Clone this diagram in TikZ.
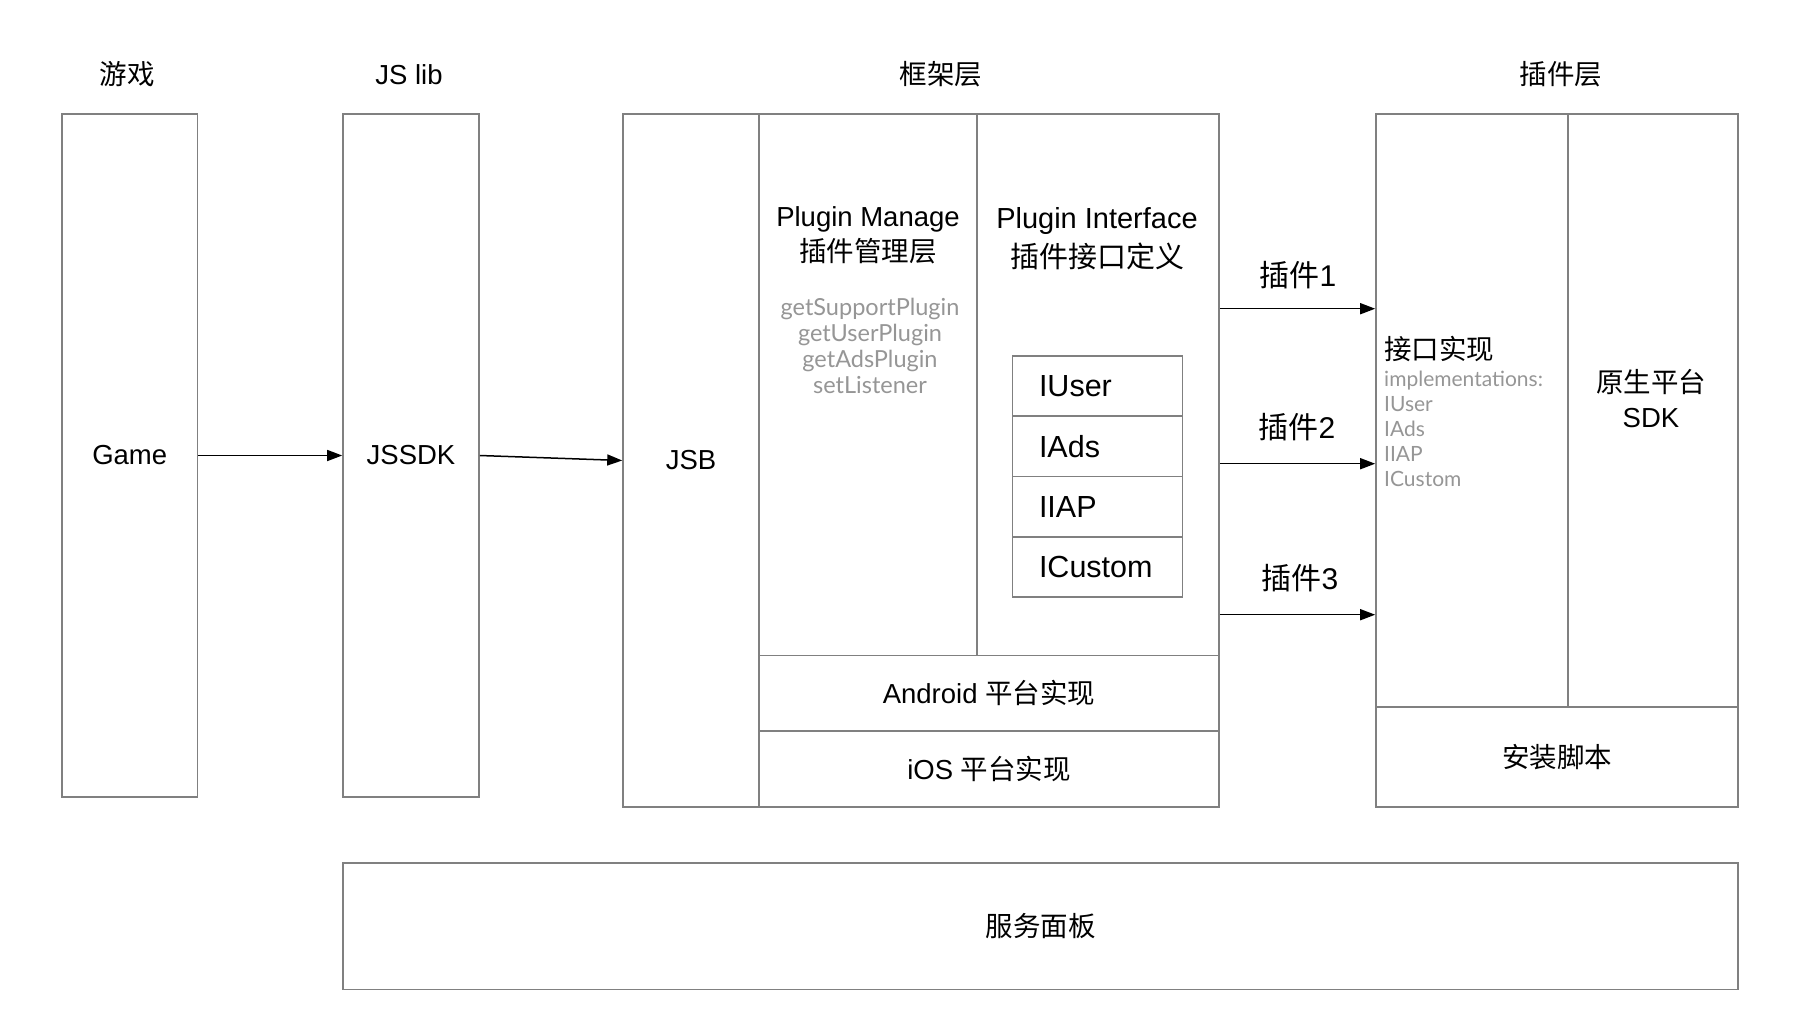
\documentclass[tikz,border=0pt]{standalone}
\usepackage{fontspec}
\setmainfont{Liberation Sans}
\newfontfamily\cj{Noto Sans CJK SC}
\newfontfamily\gf{Lato}
\usetikzlibrary{arrows.meta,calc}
\definecolor{linegray}{RGB}{128,128,128}
\definecolor{txtgray}{RGB}{150,150,150}
\begin{document}
\begin{tikzpicture}[x=1pt,y=-1pt,
  box/.style={draw=linegray,line width=1.6pt,inner sep=0pt,anchor=center},
  main/.style={font=\fontsize{27.5pt}{35pt}\selectfont},
  big/.style={font=\fontsize{29pt}{39pt}\selectfont},
  lab/.style={font=\fontsize{30pt}{36pt}\selectfont,inner sep=0pt},
  grayt/.style={font=\gf\fontsize{23.5pt}{26pt}\selectfont,text=txtgray,inner sep=0pt},
  grayi/.style={font=\gf\fontsize{21pt}{24.9pt}\selectfont,text=txtgray,inner sep=0pt},
  stackrow/.style={box,minimum width=170pt,minimum height=60.25pt,text width=117pt,inner xsep=26.5pt,align=left,font=\fontsize{30.5pt}{34pt}\selectfont},
  arr/.style={-{Triangle[length=15pt,width=11pt]},line width=1.5pt,black}
]
\useasboundingbox[fill=white] (0,0) rectangle (1800,1026);

% headers
\node[main] (h1) at (127,74.6) {\cj 游戏};
\node[main] (h2) at (409,74.6) {JS lib};
\node[main] (h3) at (941,74.6) {\cj 框架层};
\node[main] (h4) at (1561,74.6) {\cj 插件层};

% game & js lib
\node[box,main,minimum width=135.5pt,minimum height=683pt] (game) at (129.75,455.5) {Game};
\node[box,main,minimum width=136pt,minimum height=683pt] (jssdk) at (411,455.5) {JSSDK};

% framework layer
\node[box,main,minimum width=136pt,minimum height=693pt] (jsb) at (691,460.5) {JSB};
\node[box,minimum width=218pt,minimum height=541.5pt] (manage) at (868,384.75) {};
\node[box,minimum width=242pt,minimum height=541.5pt] (iface) at (1098,384.75) {};
\node[box,main,minimum width=460pt,minimum height=75.5pt] (andr) at (989,693.25) {Android {\cj 平台实现}};
\node[box,main,minimum width=460pt,minimum height=76pt] (ios) at (989,769) {iOS {\cj 平台实现}};

\node[main,align=center] (mt) at (868,235) {Plugin Manage\\{\cj 插件管理层}};
\node[grayt,align=center] (mg) at (870,345.5) {getSupportPlugin\\getUserPlugin\\getAdsPlugin\\setListener};
\node[big,align=center] (it) at (1097,239) {Plugin Interface\\{\cj 插件接口定义}};

\node[stackrow] (s1) at (1097.5,386.125) {IUser};
\node[stackrow] (s2) at (1097.5,446.375) {IAds};
\node[stackrow] (s3) at (1097.5,506.625) {IIAP};
\node[stackrow] (s4) at (1097.5,566.875) {ICustom};

% plugin layer
\node[box,minimum width=192pt,minimum height=593pt] (impl) at (1472,410.5) {};
\node[box,minimum width=170pt,minimum height=593pt] (sdk) at (1653,410.5) {};
\node[box,main,minimum width=362pt,minimum height=100pt] (inst) at (1557,757) {\cj 安装脚本};

\node[main,anchor=west,inner sep=0pt] (impt) at (1384,349) {\cj 接口实现};
\node[grayi,align=left,anchor=west] (impg) at (1384,428.85) {implementations:\\IUser\\IAds\\IIAP\\ICustom};
\node[main,align=center] (sdkt) at (1651,399) {\cj 原生平台\\SDK};

% service panel
\node[box,main,minimum width=1395pt,minimum height=126.5pt] (svc) at (1040.5,926.25) {\cj 服务面板};

% arrows
\draw[arr] (game.east) -- (jssdk.west);
\draw[arr] (jssdk.east) -- (jsb.west);
\coordinate (a1) at ($(iface.north east)+(0,195.5)$);
\coordinate (a2) at ($(iface.north east)+(0,350.5)$);
\coordinate (a3) at ($(iface.north east)+(0,501.5)$);
\draw[arr] (a1) -- (a1 -| impl.west);
\draw[arr] (a2) -- (a2 -| impl.west);
\draw[arr] (a3) -- (a3 -| impl.west);

\node[lab] (l1) at (1298,275.5) {{\cj 插件}1};
\node[lab] (l2) at (1297,427) {{\cj 插件}2};
\node[lab] (l3) at (1300,578.6) {{\cj 插件}3};
\end{tikzpicture}
\end{document}
